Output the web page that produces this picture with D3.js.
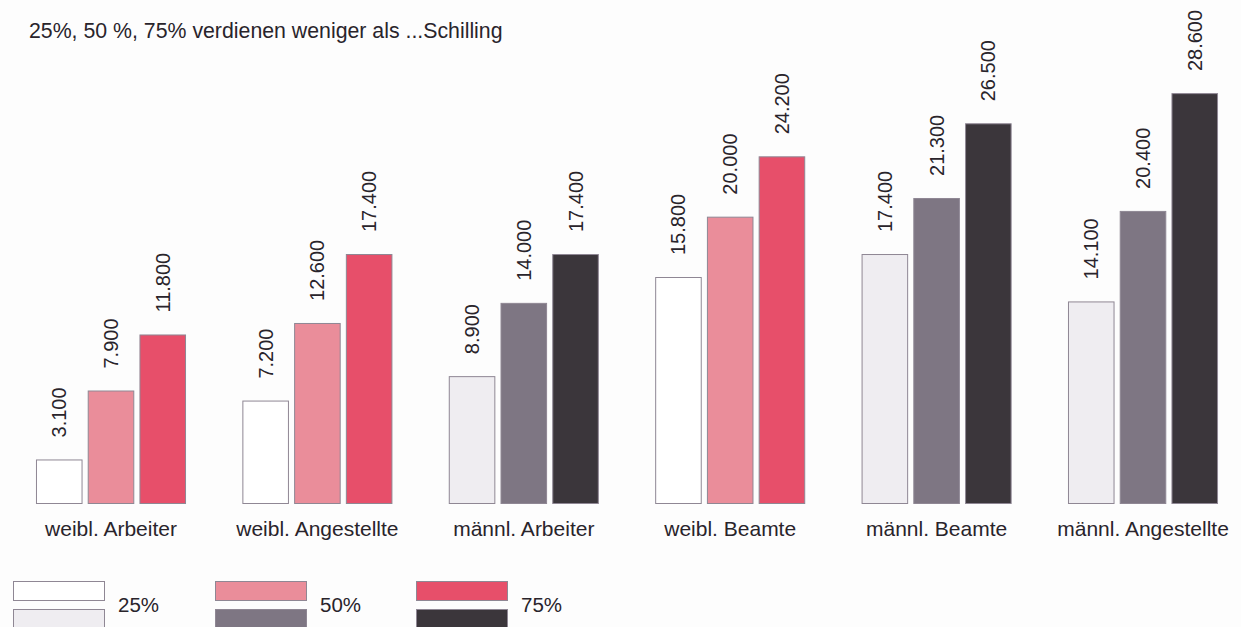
<!DOCTYPE html>
<html>
<head>
<meta charset="utf-8">
<script src="https://cdn.jsdelivr.net/npm/d3@7"></script>
<style>
  html, body { margin: 0; padding: 0; background: #fdfdfd; }
  svg { display: block; }
  text { font-family: "Liberation Sans", Arial, Helvetica, sans-serif; fill: #29242b; }
</style>
</head>
<body>
<svg id="chart" width="1241" height="627"></svg>
<script>
// Einkommensquartile nach Gruppe (Schilling)
const categories = ["weibl. Arbeiter", "weibl. Angestellte", "männl. Arbeiter",
                    "weibl. Beamte", "männl. Beamte", "männl. Angestellte"];
const gender = ["w", "w", "m", "w", "m", "m"];
const seriesNames = ["25%", "50%", "75%"];
const q25 = [3100, 7200, 8900, 15800, 17400, 14100];
const q50 = [7900, 12600, 14000, 20000, 21300, 20400];
const q75 = [11800, 17400, 17400, 24200, 26500, 28600];
const femaleColors = ["#ffffff", "#ea8d9a", "#e74f6a"];
const maleColors = ["#efedf1", "#7e7683", "#3b363b"];
const title = "25%, 50 %, 75% verdienen weniger als ...Schilling";

const seriesValues = [q25, q50, q75];
const rows = categories.map((c, i) => ({
  category: c,
  gender: gender[i],
  values: seriesValues.map((s, k) => ({ key: seriesNames[k], k, value: s[i] }))
}));

const svg = d3.select("#chart");
const baseline = 504;

const fmt = d3.formatLocale({ decimal: ",", thousands: ".", grouping: [3], currency: ["", ""] }).format(",");

const x0 = d3.scaleBand()
  .domain(categories)
  .range([7.8, 1246.2])
  .paddingInner(0.273)
  .paddingOuter(0.1365);

const x1 = d3.scaleBand()
  .domain(seriesNames)
  .range([0, x0.bandwidth()])
  .paddingInner(0.1)
  .paddingOuter(0);

const y = d3.scaleLinear().domain([0, 30000]).range([baseline, baseline - 431]);

// Titel
svg.append("text")
  .attr("x", 29)
  .attr("y", 38)
  .attr("font-size", 21.3)
  .text(title);

const groups = svg.append("g").selectAll("g.group")
  .data(rows)
  .join("g")
  .attr("class", "group")
  .attr("transform", d => `translate(${x0(d.category)},0)`);

groups.selectAll("rect")
  .data(d => d.values.map(v => ({ ...v, gender: d.gender })))
  .join("rect")
  .attr("x", d => x1(d.key) + 0.5)
  .attr("y", d => y(d.value) + 0.5)
  .attr("width", x1.bandwidth() - 1)
  .attr("height", d => baseline - y(d.value) - 1)
  .attr("fill", d => (d.gender === "w" ? femaleColors : maleColors)[d.k])
  .attr("stroke", "#8f8794")
  .attr("stroke-width", 1);

// Wertbeschriftungen, senkrecht über den Balken
groups.selectAll("text.value")
  .data(d => d.values)
  .join("text")
  .attr("class", "value")
  .attr("font-size", 20)
  .attr("text-anchor", "start")
  .attr("transform", d => {
    const cx = x1(d.key) + x1.bandwidth() / 2 + 7;
    const cy = y(d.value) - 22;
    return `translate(${cx},${cy}) rotate(-90)`;
  })
  .text(d => fmt(d.value));

// Kategorienbeschriftung
groups.append("text")
  .attr("x", x0.bandwidth() / 2)
  .attr("y", 536)
  .attr("text-anchor", "middle")
  .attr("font-size", 21)
  .text(d => d.category);

// Legende: oben weiblich, unten männlich
const legend = svg.append("g");
const legX = d3.scaleOrdinal().domain(seriesNames).range([13, 215, 416]);
const legItems = legend.selectAll("g")
  .data(seriesNames)
  .join("g")
  .attr("transform", d => `translate(${legX(d)},0)`);

legItems.append("rect")
  .attr("x", 0.5).attr("y", 581.5)
  .attr("width", 91).attr("height", 19)
  .attr("fill", (d, i) => femaleColors[i])
  .attr("stroke", "#8f8794");

legItems.append("rect")
  .attr("x", 0.5).attr("y", 609.5)
  .attr("width", 91).attr("height", 20)
  .attr("fill", (d, i) => maleColors[i])
  .attr("stroke", "#8f8794");

legItems.append("text")
  .attr("x", 105)
  .attr("y", 612)
  .attr("font-size", 20.5)
  .text(d => d);
</script>
</body>
</html>
